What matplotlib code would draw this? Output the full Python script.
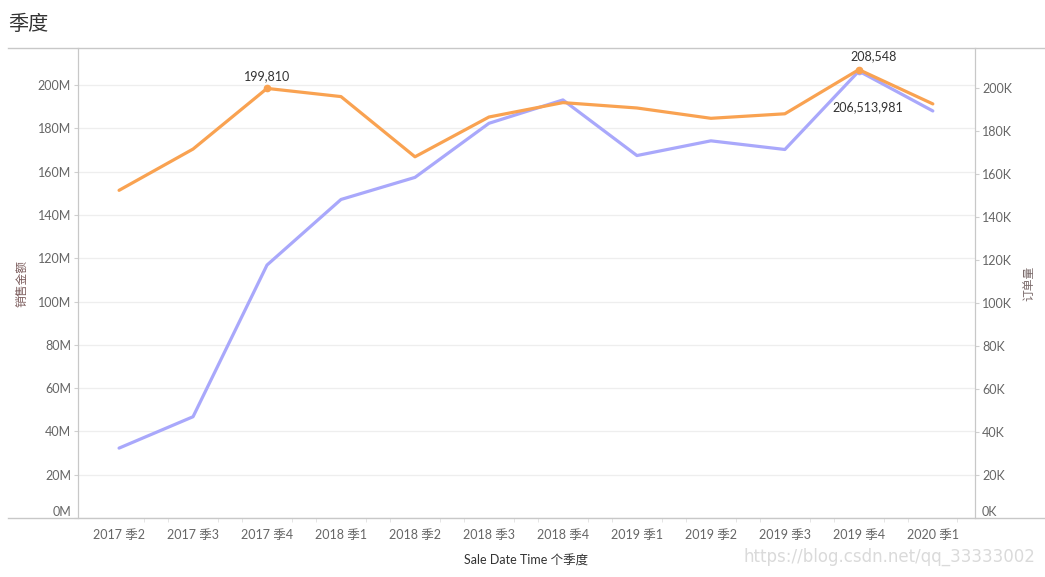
import matplotlib.pyplot as plt
from matplotlib.lines import Line2D
from matplotlib.ticker import FixedLocator, FuncFormatter
import numpy as np

plt.rcParams['font.family'] = ['Lato', 'Noto Sans CJK SC', 'DejaVu Sans']

# data
quarters = ['2017 季2', '2017 季3', '2017 季4', '2018 季1', '2018 季2', '2018 季3',
            '2018 季4', '2019 季1', '2019 季2', '2019 季3', '2019 季4', '2020 季1']
sales = [32.3e6, 46.8e6, 116.9e6, 147.2e6, 157.4e6, 182.4e6,
         193.2e6, 167.5e6, 174.3e6, 170.3e6, 206513981, 188.1e6]   # 销售金额
orders = [152400, 171600, 199810, 196000, 168000, 186500,
          193200, 190700, 185900, 188000, 208548, 192600]          # 订单量

sales_ticks = np.arange(0, 201e6, 20e6)
order_ticks = np.arange(0, 201e3, 20e3)

W, H = 1045, 577
fig = plt.figure(figsize=(W / 100, H / 100), dpi=100)

# plot area in pixels
L, R, T, B = 78, 975, 48, 518
ax = fig.add_axes([L / W, 1 - B / H, (R - L) / W, (B - T) / H])
ax2 = ax.twinx()

purple = '#A9A8FB'
orange = '#F9A251'
grey_txt = '#666666'
line_col = '#C8C8C8'

x = np.arange(len(quarters))
ax.plot(x, sales, color=purple, lw=2.3, solid_capstyle='round', zorder=3)
ax2.plot(x, orders, color=orange, lw=2.3, solid_capstyle='round', zorder=3)

# labelled marks
for i in (2, 10):
    ax2.plot(x[i], orders[i], 'o', color=orange, ms=4.5, zorder=4)
ax.plot(x[10], sales[10], 'o', color=purple, ms=4.5, zorder=4)

ax2.annotate(f'{orders[2]:,}', (x[2], orders[2]), xytext=(0, 6), textcoords='offset pixels',
             ha='center', va='bottom', fontsize=9, color='#333333')
ax2.annotate(f'{orders[10]:,}', (x[10], orders[10]), xytext=(15, 7), textcoords='offset pixels',
             ha='center', va='bottom', fontsize=9, color='#333333')
ax.annotate(f'{sales[10]:,}', (x[10], sales[10]), xytext=(9, -36), textcoords='offset pixels',
            ha='center', va='center', fontsize=9, color='#333333')

ax.set_xlim(-0.555, 11.57)
ax.set_ylim(0, 217.2e6)
ax2.set_ylim(0, 218.6e3)

ax.set_xticks(x)
ax.set_xticklabels(quarters)
ax.xaxis.set_minor_locator(FixedLocator(np.arange(0, 11.6, 1 / 3)))
ax.tick_params(axis='x', which='major', length=0, pad=8, labelsize=9, labelcolor=grey_txt)
ax.tick_params(axis='x', which='minor', length=3, color='#E0E0E0')

ax.yaxis.set_major_locator(FixedLocator(sales_ticks))
ax.yaxis.set_major_formatter(FuncFormatter(lambda v, p: f'{v / 1e6:.0f}M'))
ax2.yaxis.set_major_locator(FixedLocator(order_ticks))
ax2.yaxis.set_major_formatter(FuncFormatter(lambda v, p: f'{v / 1e3:.0f}K'))
for a in (ax, ax2):
    a.tick_params(axis='y', length=3, width=0.8, color='#D0D0D0', pad=2,
                  labelsize=9, labelcolor=grey_txt)

ax.grid(axis='y', color='#EEEEEE', lw=0.9)
ax.set_axisbelow(True)

for a in (ax, ax2):
    a.spines['top'].set_visible(False)
    a.spines['bottom'].set_visible(False)
    a.spines['left'].set_color(line_col)
    a.spines['right'].set_color(line_col)

ax.set_xlabel('Sale Date Time 个季度', fontsize=9, color='#333333', labelpad=10)

fig.text(22 / W, 1 - 283 / H, '销售金额', rotation=90, ha='center', va='center',
         fontsize=8.5, color='#7a5a5a')
fig.text(1029 / W, 1 - 283 / H, '订单量', rotation=90, ha='center', va='center',
         fontsize=8.5, color='#7a6a6a')

fig.text(8 / W, 1 - 23 / H, '季度', ha='left', va='center', fontsize=14.5, color='#333333')

# header / footer rules
for yy in (T, B):
    fig.add_artist(Line2D([8 / W, 1], [1 - yy / H, 1 - yy / H], color=line_col, lw=1))

fig.text(1035 / W, 1 - 557 / H, 'https://blog.csdn.net/qq_33333002', ha='right', va='center',
         fontsize=12, color='#DADADA', family='DejaVu Sans')

fig.canvas.draw()
# the 0 labels sit above the baseline
for lab in (ax.get_yticklabels()[0], ax2.get_yticklabels()[0]):
    lab.set_va('bottom')

fig.savefig('out.png', dpi=100)
